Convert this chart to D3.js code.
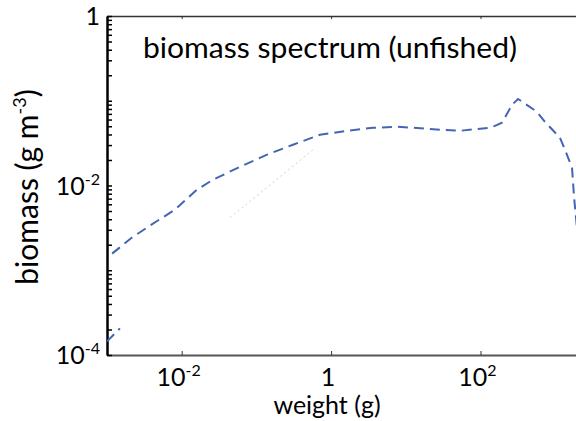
<!DOCTYPE html>
<html><head><meta charset="utf-8">
<script src="https://cdn.jsdelivr.net/npm/d3@7"></script>
<style>body{margin:0;background:#fff;overflow:hidden} text{font-family:Lato, "Open Sans", sans-serif;fill:#000}</style>
</head><body><svg id="c" width="576" height="421"></svg>
<script>
// main (unfished) biomass spectrum
const weight  = [0.00117,0.00216,0.00377,0.00813,0.0160,0.0262,0.0603,0.139,0.309,0.710,1.63,3.64,7.62,12.5,28.7,53.2,134,156,194,264,318,570,729,1159,1352,1679,1786,2148];
const biomass = [0.00157,0.00243,0.00337,0.00519,0.00893,0.0117,0.0166,0.0231,0.0303,0.0397,0.0442,0.0480,0.0493,0.0480,0.0454,0.0442,0.0480,0.0506,0.0550,0.0895,0.105,0.0740,0.0564,0.0366,0.0264,0.0162,0.00738,0.00134];
// short lower segment near the left edge
const lowWeight  = [0.00100,0.00120,0.00149];
const lowBiomass = [0.000145,0.000170,0.000206];
// faint trace
const faintWeight  = [0.0444,0.573];
const faintBiomass = [0.00418,0.0264];

const xTicks = [1e-2, 1, 1e2];
const xTickBase = ["10","1","10"];
const xTickExp  = ["-2","","2"];
const yTicks = [1, 1e-2, 1e-4];
const yTickBase = ["1","10","10"];
const yTickExp  = ["","-2","-4"];

const svg = d3.select("#c");
const L = 107, T = 16, B = 355, R = 576;
const x = d3.scaleLog().domain([1e-3, 1e4]).range([L, L + 7*74.7]);
const y = d3.scaleLog().domain([1e-4, 1]).range([B, T]);

svg.append("clipPath").attr("id","clip").append("rect")
  .attr("x", L).attr("y", T).attr("width", R - L).attr("height", B - T);

// top axis
svg.append("g").attr("transform",`translate(0,${T})`)
  .call(d3.axisBottom(x).tickValues(xTicks).tickSize(3).tickSizeOuter(0).tickFormat(""))
  .call(g => g.select(".domain").attr("stroke","#333").attr("stroke-width",1.6))
  .call(g => g.selectAll(".tick line").attr("stroke","#333"));
// bottom axis
svg.append("g").attr("transform",`translate(0,${B})`)
  .call(d3.axisTop(x).tickValues(xTicks).tickSize(4).tickSizeOuter(0).tickFormat(""))
  .call(g => g.select(".domain").attr("stroke","#555").attr("stroke-width",2))
  .call(g => g.selectAll(".tick line").attr("stroke","#333"));

// left axis with log minor ticks
const minor = [];
for (let k = -4; k < 0; k++) for (let m = 1; m < 10; m++) minor.push(m * Math.pow(10, k));
minor.push(1);
svg.append("g").attr("transform",`translate(${L},0)`)
  .call(d3.axisRight(y).tickValues(minor).tickSize(5).tickSizeOuter(0).tickFormat(""))
  .call(g => g.select(".domain").attr("stroke","#000").attr("stroke-width",2.5))
  .call(g => g.selectAll(".tick line").attr("stroke","#000").attr("stroke-width",1.5));

// x tick labels
const xl = svg.append("g");
xTicks.forEach((v,i) => {
  const t = xl.append("text").attr("x", x(v) - 3).attr("y", 386)
    .attr("text-anchor","middle").style("font-size","25px");
  t.append("tspan").text(xTickBase[i]);
  if (xTickExp[i]) t.append("tspan").attr("dy",-10).style("font-size","16px").text(xTickExp[i]);
});
// y tick labels
yTicks.forEach((v,i) => {
  const t = svg.append("text").attr("x", 100).attr("y", y(v) + 9)
    .attr("text-anchor","end").style("font-size","25px");
  t.append("tspan").text(yTickBase[i]);
  if (yTickExp[i]) t.append("tspan").attr("dy",-10).style("font-size","16px").text(yTickExp[i]);
});

// lines
const plot = svg.append("g").attr("clip-path","url(#clip)");
const line = d3.line().x(d => x(d[0])).y(d => y(d[1]));
plot.append("path").datum(faintWeight.map((w,i)=>[w,faintBiomass[i]]))
  .attr("d", line).attr("fill","none").attr("stroke","#c8cfe0").attr("stroke-width",1).attr("stroke-dasharray","2,3");
plot.append("path").datum(weight.map((w,i)=>[w,biomass[i]]))
  .attr("d", line).attr("fill","none").attr("stroke","#4464b4").attr("stroke-width",2).attr("stroke-dasharray","10,6");
plot.append("path").datum(lowWeight.map((w,i)=>[w,lowBiomass[i]]))
  .attr("d", line).attr("fill","none").attr("stroke","#4464b4").attr("stroke-width",2).attr("stroke-dasharray","10,6");

// title
svg.append("text").attr("x", 143).attr("y", 58).style("font-size","29px")
  .attr("textLength", 374).attr("lengthAdjust","spacingAndGlyphs")
  .text("biomass spectrum (unfished)");
// x label
svg.append("text").attr("x", 327).attr("y", 414).attr("text-anchor","middle").style("font-size","25px")
  .text("weight (g)");
// y label
const yl = svg.append("text").attr("transform","translate(38,187) rotate(-90)")
  .attr("text-anchor","middle").style("font-size","30px");
yl.append("tspan").text("biomass (g m");
yl.append("tspan").attr("dy",-12).style("font-size","18px").text("-3");
yl.append("tspan").attr("dy",12).text(")");
</script></body></html>
